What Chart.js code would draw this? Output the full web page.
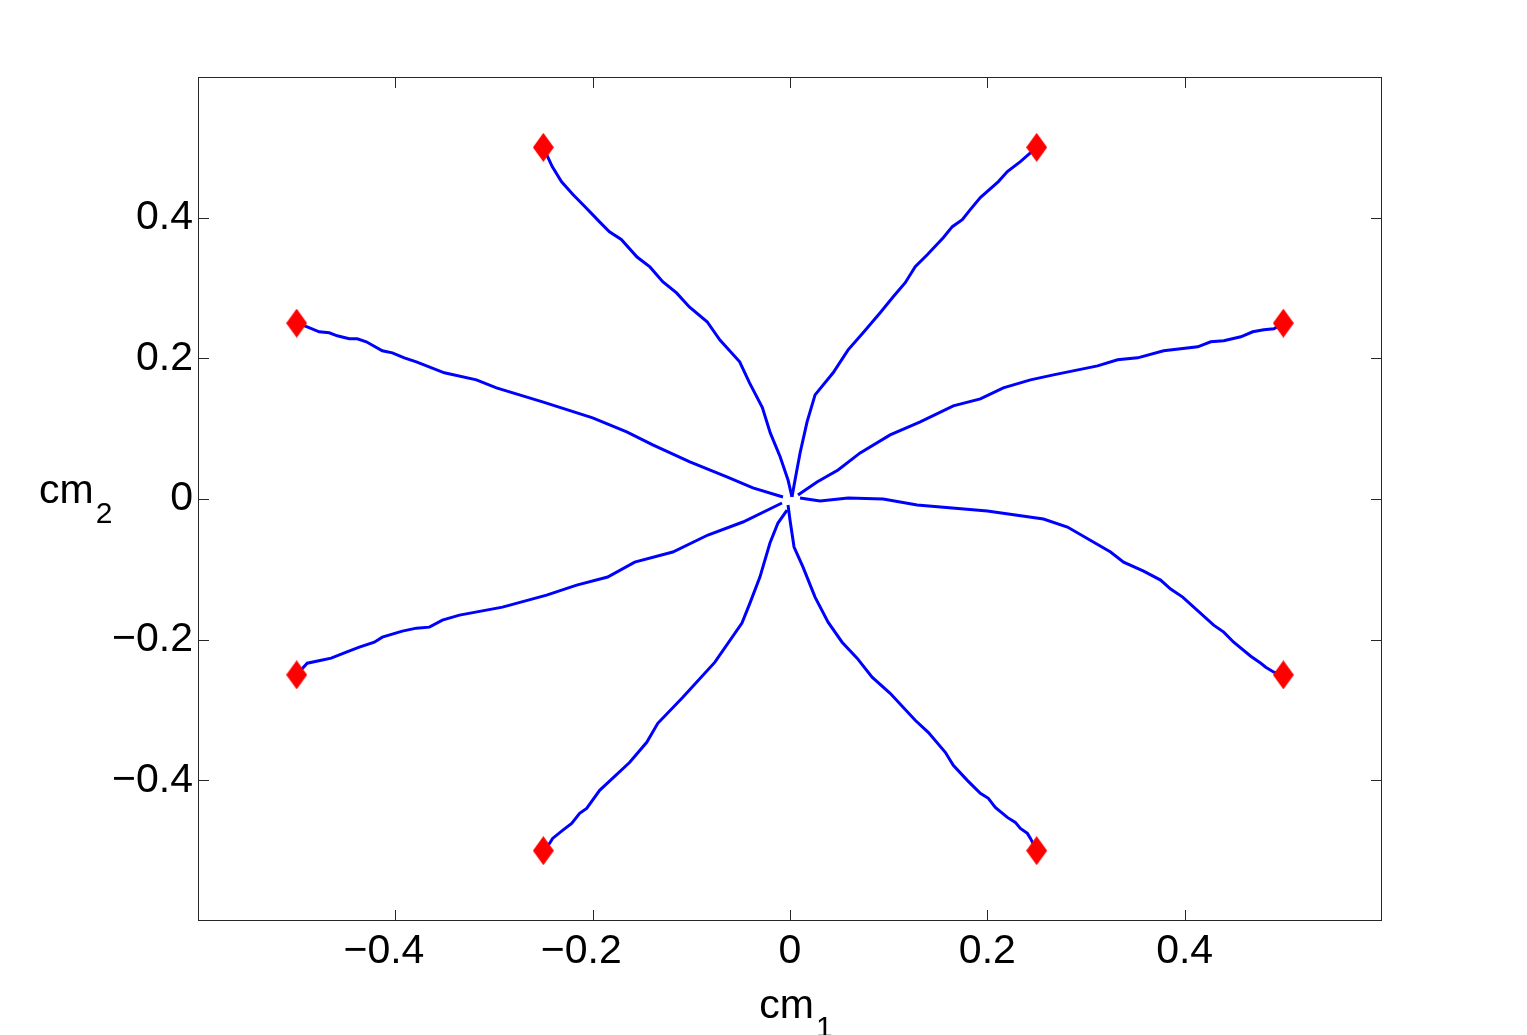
<!DOCTYPE html>
<html>
<head>
<meta charset="utf-8">
<script src="https://cdn.jsdelivr.net/npm/chart.js@4.4.1/dist/chart.umd.min.js"></script>
<style>
  html, body { margin: 0; padding: 0; background: #fff; }
</style>
</head>
<body>
<canvas id="trajChart" width="1527" height="1035"></canvas>
<script>
// cm trajectories: each arm runs from near the origin out to a red diamond target

const axisMin = -0.6;
const axisMax = 0.6;
const tickValues = [-0.4, -0.2, 0, 0.2, 0.4];

// target positions (red diamonds)
const targets = [
  [-0.25, 0.5], [0.25, 0.5], [-0.5, 0.25], [0.5, 0.25],
  [-0.5, -0.25], [0.5, -0.25], [-0.25, -0.5], [0.25, -0.5],
];

// arm toward (-0.25, 0.5)
const armNNW = [
  [0.002, 0.003], [-0.002, 0.027], [-0.010, 0.060], [-0.020, 0.094], [-0.028, 0.130],
  [-0.041, 0.165], [-0.051, 0.195], [-0.071, 0.226], [-0.084, 0.252], [-0.102, 0.273],
  [-0.115, 0.293], [-0.129, 0.309], [-0.142, 0.330], [-0.155, 0.344], [-0.171, 0.369],
  [-0.183, 0.380], [-0.193, 0.394], [-0.208, 0.416], [-0.220, 0.433], [-0.2315, 0.451],
  [-0.241, 0.4726], [-0.25, 0.5],
];

// arm toward (0.25, 0.5)
const armNNE = [
  [0.002, 0.003], [0.0051, 0.027], [0.0102, 0.0655], [0.0173, 0.1096], [0.0254, 0.148],
  [0.0437, 0.1794], [0.0589, 0.2121], [0.0741, 0.2363], [0.0914, 0.2648], [0.1046, 0.2875],
  [0.1168, 0.3075], [0.1269, 0.3302], [0.1391, 0.3473], [0.1553, 0.3715], [0.1645, 0.3872],
  [0.1746, 0.3972], [0.1827, 0.4114], [0.1929, 0.4285], [0.2112, 0.4513], [0.2203, 0.4655],
  [0.2335, 0.4797], [0.2416, 0.4897], [0.25, 0.5],
];

// arm toward (-0.5, 0.25)
const armWNW = [
  [-0.0071, 0.0028], [-0.0376, 0.0157], [-0.064, 0.0313], [-0.1015, 0.0527], [-0.1391, 0.0769],
  [-0.1655, 0.0954], [-0.2, 0.1153], [-0.2508, 0.1381], [-0.2975, 0.158], [-0.3178, 0.1694],
  [-0.3503, 0.1794], [-0.3787, 0.195], [-0.3909, 0.2007], [-0.403, 0.2078], [-0.4132, 0.2107],
  [-0.4294, 0.2235], [-0.4386, 0.2278], [-0.4467, 0.2278], [-0.4589, 0.232], [-0.467, 0.2363],
  [-0.4772, 0.2377], [-0.4893, 0.2448], [-0.5, 0.25],
];

// arm toward (0.5, 0.25)
const armENE = [
  [0.0081, 0.0057], [0.0274, 0.0242], [0.0487, 0.0413], [0.0711, 0.0655], [0.1015, 0.0911],
  [0.132, 0.1096], [0.1655, 0.1324], [0.1929, 0.1423], [0.2162, 0.158], [0.2437, 0.1694],
  [0.267, 0.1765], [0.3117, 0.1893], [0.332, 0.1979], [0.3523, 0.2007], [0.3787, 0.2107],
  [0.4132, 0.2164], [0.4264, 0.2235], [0.4396, 0.2249], [0.4569, 0.2306], [0.469, 0.2377],
  [0.4802, 0.2406], [0.4904, 0.242], [0.5, 0.25],
];

// arm toward (-0.5, -0.25)
const armWSW = [
  [-0.0081, -0.0057], [-0.0477, -0.0327], [-0.0832, -0.0512], [-0.1188, -0.0754], [-0.1574, -0.0897],
  [-0.1848, -0.111], [-0.2162, -0.1224], [-0.2467, -0.1367], [-0.2914, -0.1537], [-0.335, -0.1651],
  [-0.3523, -0.1722], [-0.3655, -0.1822], [-0.3787, -0.1836], [-0.3929, -0.1879], [-0.4132, -0.1964],
  [-0.4213, -0.2036], [-0.4365, -0.2107], [-0.4497, -0.2178], [-0.465, -0.2263], [-0.4751, -0.2292],
  [-0.4893, -0.2335], [-0.5, -0.25],
];

// arm toward (0.5, -0.25)
const armESE = [
  [0.0102, 0.0014], [0.0305, -0.0028], [0.0589, 0.0014], [0.0944, 0.0], [0.1289, -0.0085],
  [0.2, -0.0171], [0.2569, -0.0285], [0.2812, -0.0399], [0.3249, -0.0754], [0.3381, -0.0897],
  [0.3584, -0.1025], [0.3756, -0.1153], [0.3858, -0.1281], [0.398, -0.1395], [0.4294, -0.1794],
  [0.4396, -0.1893], [0.4497, -0.2036], [0.467, -0.2235], [0.4772, -0.2335], [0.4822, -0.2391],
  [0.4904, -0.2463], [0.5, -0.25],
];

// arm toward (-0.25, -0.5)
const armSSW = [
  [-0.003, -0.0157], [-0.0122, -0.0342], [-0.0203, -0.0626], [-0.0305, -0.111], [-0.0406, -0.148],
  [-0.0487, -0.1765], [-0.0761, -0.232], [-0.1086, -0.2819], [-0.134, -0.3189], [-0.1452, -0.3459],
  [-0.1624, -0.3744], [-0.1929, -0.4142], [-0.2061, -0.4399], [-0.2132, -0.447], [-0.2213, -0.4612],
  [-0.2305, -0.4712], [-0.2406, -0.4826], [-0.2437, -0.4897], [-0.25, -0.5],
];

// arm toward (0.25, -0.5)
const armSSE = [
  [-0.002, -0.0085], [0.0, -0.0299], [0.0041, -0.0683], [0.0132, -0.0968], [0.0254, -0.1395],
  [0.0386, -0.1751], [0.0528, -0.2036], [0.068, -0.2263], [0.0832, -0.2534], [0.1015, -0.2762],
  [0.1269, -0.3146], [0.1401, -0.3317], [0.1574, -0.3601], [0.1655, -0.3786], [0.1797, -0.4],
  [0.1929, -0.4185], [0.201, -0.4256], [0.2081, -0.4384], [0.2203, -0.4527], [0.2284, -0.4598],
  [0.2335, -0.4683], [0.2406, -0.4754], [0.2437, -0.4826], [0.25, -0.5],
];

const arms = [armNNW, armNNE, armWNW, armENE, armWSW, armESE, armSSW, armSSE];

const FONT = "'Liberation Sans', Arial, Helvetica, sans-serif";

function toXY(pairs) {
  return pairs.map(([x, y]) => ({ x, y }));
}

function fmtTick(v) {
  if (Math.abs(v) < 1e-9) return "0";
  return (v < 0 ? "\u2212" : "") + Math.abs(v).toFixed(1);
}

// MATLAB-style diamond: taller than wide
function makeDiamond(w, h, color) {
  const c = document.createElement("canvas");
  c.width = w;
  c.height = h;
  const g = c.getContext("2d");
  g.fillStyle = color;
  g.beginPath();
  g.moveTo(w / 2, 0);
  g.lineTo(w, h / 2);
  g.lineTo(w / 2, h);
  g.lineTo(0, h / 2);
  g.closePath();
  g.fill();
  return c;
}

// box + inward ticks on all four sides, and subscripted axis labels
const framePlugin = {
  id: "frame",
  afterDraw(chart) {
    const { ctx, chartArea: a, scales } = chart;
    const tl = 11;
    ctx.save();
    ctx.strokeStyle = "#262626";
    ctx.lineWidth = 1;
    ctx.strokeRect(a.left + 0.5, a.top + 0.5, a.right - a.left - 1, a.bottom - a.top - 1);

    ctx.beginPath();
    tickValues.forEach((v) => {
      const px = Math.round(scales.x.getPixelForValue(v)) + 0.5;
      ctx.moveTo(px, a.bottom);
      ctx.lineTo(px, a.bottom - tl);
      ctx.moveTo(px, a.top);
      ctx.lineTo(px, a.top + tl);
      const py = Math.round(scales.y.getPixelForValue(v)) + 0.5;
      ctx.moveTo(a.left, py);
      ctx.lineTo(a.left + tl, py);
      ctx.moveTo(a.right, py);
      ctx.lineTo(a.right - tl, py);
    });
    ctx.stroke();

    ctx.fillStyle = "#000";
    ctx.textBaseline = "alphabetic";
    ctx.textAlign = "left";

    // x label: cm_1
    const mainFont = `41px ${FONT}`;
    const subFont = `30px ${FONT}`;
    ctx.font = mainFont;
    const wMain = ctx.measureText("cm").width;
    ctx.font = subFont;
    const wSub1 = ctx.measureText("1").width;
    const cx = (a.left + a.right) / 2 + 6;
    const xStart = cx - (wMain + 2 + wSub1) / 2;
    ctx.font = mainFont;
    ctx.fillText("cm", xStart, a.bottom + 97);
    ctx.font = subFont;
    ctx.fillText("1", xStart + wMain + 2, a.bottom + 116);

    // y label: cm_2
    const cyBase = (a.top + a.bottom) / 2 + 4;
    ctx.font = mainFont;
    ctx.fillText("cm", 39, cyBase);
    ctx.font = subFont;
    ctx.fillText("2", 39 + wMain + 2, cyBase + 20);
    ctx.restore();
  },
};

const lineDatasets = arms.map((arm, i) => ({
  label: `arm ${i + 1}`,
  data: toXY(arm),
  showLine: true,
  borderColor: "#0000ff",
  borderWidth: 3,
  pointRadius: 0,
  tension: 0,
  order: 1,
}));

const targetDataset = {
  label: "targets",
  data: toXY(targets),
  showLine: false,
  pointStyle: makeDiamond(21, 29, "#ff0000"),
  pointRadius: 10,
  order: 0,
};

const tickFont = { family: FONT, size: 41 };

new Chart(document.getElementById("trajChart"), {
  type: "scatter",
  plugins: [framePlugin],
  data: { datasets: [targetDataset, ...lineDatasets] },
  options: {
    responsive: false,
    animation: false,
    devicePixelRatio: 1,
    layout: { padding: { left: 0, right: 145, top: 77, bottom: 0 } },
    plugins: {
      legend: { display: false },
      tooltip: { enabled: false },
    },
    scales: {
      x: {
        type: "linear",
        min: axisMin,
        max: axisMax,
        afterBuildTicks: (s) => { s.ticks = tickValues.map((v) => ({ value: v })); },
        afterFit: (s) => { s.height = 114; },
        grid: { display: false, drawTicks: false },
        border: { display: false },
        ticks: {
          color: "#000",
          font: tickFont,
          padding: 6,
          maxRotation: 0,
          // negative labels sit a little left of the tick, as in the original
          callback: (v) => (v < 0 ? fmtTick(v) + "  " : fmtTick(v)),
        },
      },
      y: {
        type: "linear",
        min: axisMin,
        max: axisMax,
        afterBuildTicks: (s) => { s.ticks = tickValues.map((v) => ({ value: v })); },
        afterFit: (s) => { s.width = 198; },
        grid: { display: false, drawTicks: false },
        border: { display: false },
        ticks: {
          color: "#000",
          font: tickFont,
          padding: 5,
          callback: (v) => fmtTick(v),
        },
      },
    },
  },
});
</script>
</body>
</html>
